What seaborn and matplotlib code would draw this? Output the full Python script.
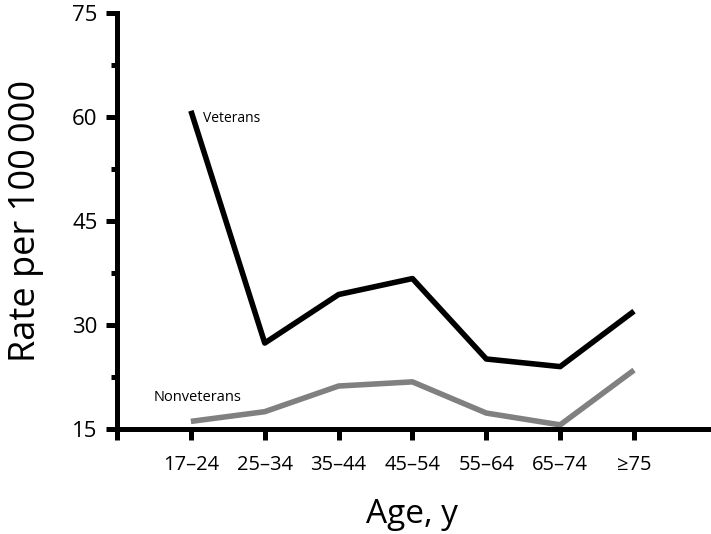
import matplotlib
matplotlib.use("Agg")
import matplotlib.pyplot as plt
import seaborn as sns
import pandas as pd
from matplotlib.ticker import MultipleLocator

ages = ["17\u201324", "25\u201334", "35\u201344", "45\u201354", "55\u201364", "65\u201374", "\u226575"]
veterans = [60.9, 27.4, 34.4, 36.7, 25.1, 24.0, 32.0]
nonveterans = [16.1, 17.5, 21.2, 21.8, 17.3, 15.6, 23.5]
y_ticks = [15, 30, 45, 60, 75]

sns.set_theme(style="white")
plt.rcParams['font.family'] = ['Open Sans', 'DejaVu Sans']

df = pd.DataFrame({
    "age": ages * 2,
    "rate": veterans + nonveterans,
    "group": ["Veterans"] * len(ages) + ["Nonveterans"] * len(ages),
})

fig = plt.figure(figsize=(7.11, 5.34), dpi=100)
ax = fig.add_axes([0.1646, 0.1966, 0.831, 0.779])

sns.lineplot(data=df, x="age", y="rate", hue="group", sort=False,
             palette={"Veterans": "#000000", "Nonveterans": "#808080"},
             linewidth=4.0, legend=False, ax=ax)
for ln in ax.lines:
    ln.set_solid_capstyle("butt")
    ln.set_clip_on(False)

ax.set_xlim(-1, 7)
ax.set_ylim(15, 75)
ax.set_xticks(range(-1, len(ages)))
ax.set_xticklabels([""] + ages, fontsize=14.5)
ax.set_yticks(y_ticks)
ax.set_yticklabels([str(v) for v in y_ticks], fontsize=16)
ax.yaxis.set_minor_locator(MultipleLocator(7.5))

for s in ["top", "right"]:
    ax.spines[s].set_visible(False)
for s in ["left", "bottom"]:
    ax.spines[s].set_linewidth(3.6)
    ax.spines[s].set_color("black")

ax.tick_params(axis="x", which="major", direction="out", length=8, width=3.6,
               color="black", pad=11, bottom=True)
ax.tick_params(axis="y", which="major", direction="out", length=8, width=3.6,
               color="black", pad=6, left=True)
ax.tick_params(axis="y", which="minor", direction="out", length=4, width=3.6,
               color="black", left=True)
ax.tick_params(labelcolor="black")

ax.set_xlabel("Age, y", fontsize=24, labelpad=16, color="black")
ax.set_ylabel("Rate per 100\u2009000", fontsize=26, labelpad=20, color="black")

ax.text(0.17, 59.8, "Veterans", fontsize=10, color="black", va="center", ha="left")
ax.text(-0.5, 19.5, "Nonveterans", fontsize=10.5, color="black", va="center", ha="left")

fig.savefig("out.png", dpi=100)
